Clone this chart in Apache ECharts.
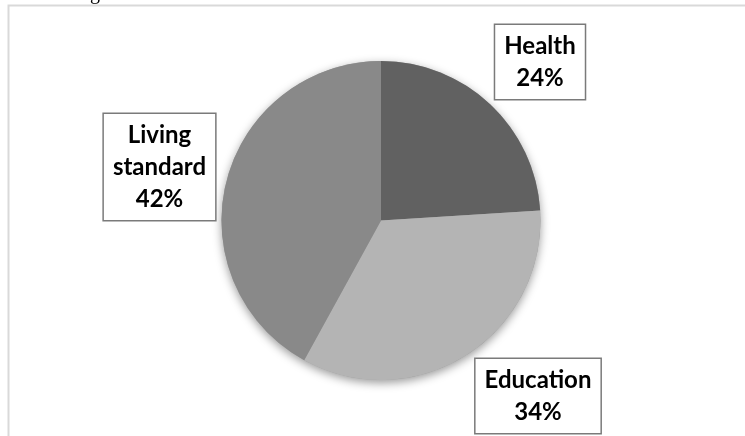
<!DOCTYPE html>
<html>
<head>
<meta charset="utf-8">
<script src="https://cdn.jsdelivr.net/npm/echarts@6/dist/echarts.min.js"></script>
<style>
html,body{margin:0;padding:0;background:#fff;}
#chart{width:745px;height:436px;}
</style>
</head>
<body>
<div id="chart"></div>
<script>
const categories = ['Health', 'Education', 'Living standard'];
const values = [24, 34, 42];
const colors = ['#616161', '#b4b4b4', '#898989'];
// label box centres (layout only)
const labelPos = [[540, 62], [538, 396], [159.5, 167]];

const chart = echarts.init(document.getElementById('chart'), null, {renderer: 'canvas'});
chart.setOption({
  backgroundColor: '#ffffff',
  animation: false,
  graphic: [
    {type: 'rect', shape: {x: 8.5, y: 5.5, width: 800, height: 500}, style: {fill: 'none', stroke: '#d9d9d9', lineWidth: 2}, z: -10},
    {type: 'text', x: 90, y: -16, style: {text: 'g', font: '20px "Liberation Serif"', fill: '#000'}}
  ],
  series: [
    {
      type: 'pie', silent: true, z: 1,
      center: [381, 220.5], radius: 159.5,
      label: {show: false}, labelLine: {show: false},
      itemStyle: {color: '#9a9a9a', shadowBlur: 10, shadowOffsetY: 3, shadowColor: 'rgba(0,0,0,0.4)', borderWidth: 0},
      emphasis: {disabled: true},
      data: [{value: 1, name: ''}]
    },
    {
      type: 'pie', z: 2,
      center: [381, 220.5], radius: 159.5,
      startAngle: 90, clockwise: true,
      itemStyle: {borderWidth: 0},
      emphasis: {disabled: true},
      labelLine: {show: false},
      label: {
        show: true,
        position: 'outside',
        formatter: function (p) { return p.name.replace(' ', '\n') + '\n' + p.percent + '%'; },
        fontFamily: 'Lato', fontWeight: 'bold', fontSize: 24, lineHeight: 32,
        color: '#000', align: 'center',
        backgroundColor: '#ffffff', borderColor: '#7a7a7a', borderWidth: 1.5,
        padding: [5, 9, 5, 9]
      },
      labelLayout: function (params) {
        const p = labelPos[params.dataIndex];
        return {x: p[0], y: p[1], align: 'center', verticalAlign: 'middle', hideOverlap: false};
      },
      data: categories.map((c, i) => ({name: c, value: values[i], itemStyle: {color: colors[i]}}))
    }
  ]
});
</script>
</body>
</html>
